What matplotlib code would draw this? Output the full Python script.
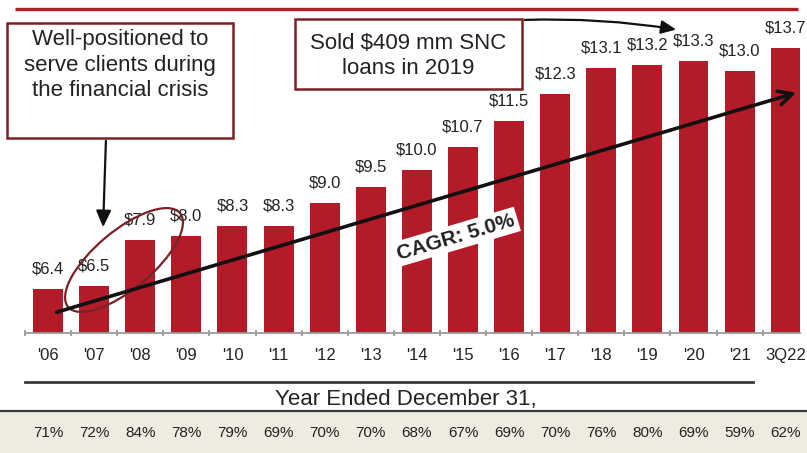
import matplotlib
matplotlib.use("Agg")
import matplotlib.pyplot as plt
import matplotlib.transforms as mtransforms
from matplotlib.patches import Ellipse, Rectangle
import numpy as np

plt.rcParams['font.family'] = ['Liberation Sans', 'DejaVu Sans']

# data
years = ["'06", "'07", "'08", "'09", "'10", "'11", "'12", "'13", "'14",
         "'15", "'16", "'17", "'18", "'19", "'20", "'21", "3Q22"]
values = [6.4, 6.5, 7.9, 8.0, 8.3, 8.3, 9.0, 9.5, 10.0,
          10.7, 11.5, 12.3, 13.1, 13.2, 13.3, 13.0, 13.7]
ratios = ["71%", "72%", "84%", "78%", "79%", "69%", "70%", "70%", "68%",
          "67%", "69%", "70%", "76%", "80%", "69%", "59%", "62%"]

W, H = 807, 453
bar_red = "#B31B28"
box_red = "#7A2128"
txt = "#222222"

fig = plt.figure(figsize=(W / 100, H / 100), dpi=100)

# main bar axes (pixel layout: x 25..800, baseline at y=333)
ax = fig.add_axes([25 / W, (H - 333) / H, 775 / W, 311 / H])
x = np.arange(len(values))
ax.bar(x, values, width=0.65, color=bar_red, zorder=2)
ax.set_xlim(-0.5, 16.31)
ax.set_ylim(5.07, 5.07 + 311 / 33.0)

for xi, v in zip(x, values):
    ax.annotate(f"${v:.1f}", (xi, v), xytext=(0, 9), textcoords="offset points",
                ha="center", va="bottom", fontsize=12, color=txt)

for s in ["top", "right", "left"]:
    ax.spines[s].set_visible(False)
ax.spines["bottom"].set_color("#9A9A9A")
ax.spines["bottom"].set_linewidth(1.3)
ax.set_yticks([])
ax.set_xticks(x)
ax.set_xticklabels(years, fontsize=12, color=txt)
ax.tick_params(axis="x", which="major", length=0, pad=11)
ax.set_xticks(np.arange(-0.5, 16, 1.0), minor=True)
ax.tick_params(axis="x", which="minor", length=5, width=1.3, color="#9A9A9A", direction="inout")

# percentage row under the chart
trans = mtransforms.blended_transform_factory(ax.transData, fig.transFigure)
for xi, r in zip(x, ratios):
    ax.text(xi, (H - 433) / H, r, transform=trans, ha="center", va="center",
            fontsize=11, color=txt, clip_on=False)

# pixel-coordinate layers for decorations
ov = fig.add_axes([0, 0, 1, 1], zorder=-1)
ov.set_xlim(0, W)
ov.set_ylim(H, 0)
ov.axis("off")
ov.patch.set_alpha(0)

ann = fig.add_axes([0, 0, 1, 1], zorder=5)
ann.set_xlim(0, W)
ann.set_ylim(H, 0)
ann.axis("off")
ann.patch.set_alpha(0)

# top red rule
ann.plot([15, 798], [9, 9], color=bar_red, lw=2.4, solid_capstyle="butt")

# bottom band
ov.add_patch(Rectangle((0, 411), W, 42, facecolor="#EEEBE1", edgecolor="none"))
ov.plot([0, W], [411, 411], color="#3A3A3A", lw=1.6)
ann.plot([25, 753], [382, 382], color="#3A3A3A", lw=2)
ann.text(406, 399, "Year Ended December 31,", ha="center", va="center", fontsize=16, color=txt)

# callout boxes
ann.add_patch(Rectangle((7, 23), 226, 115, facecolor="white", edgecolor=box_red, lw=1.8))
ann.text(120, 65, "Well-positioned to\nserve clients during\nthe financial crisis",
         ha="center", va="center", fontsize=16, color=txt, linespacing=1.25)
ann.annotate("", xy=(103, 230), xytext=(106, 138),
             arrowprops=dict(arrowstyle="-|>,head_length=1.0,head_width=0.45", color="#111111", lw=1.6))

ann.add_patch(Rectangle((295, 19), 227, 70, facecolor="white", edgecolor=box_red, lw=1.8))
ann.text(408, 56, "Sold $409 mm SNC\nloans in 2019", ha="center", va="center",
         fontsize=16, color=txt, linespacing=1.25)
ann.annotate("", xy=(679, 30), xytext=(522, 20),
             arrowprops=dict(arrowstyle="-|>,head_length=0.9,head_width=0.4", color="#111111", lw=1.6,
                             connectionstyle="arc3,rad=-0.05"))

# ellipse around the crisis years
ann.add_patch(Ellipse((124, 260), 146, 58, angle=-40, facecolor="none", edgecolor=box_red, lw=1.6))

# CAGR trend arrow
ann.annotate("", xy=(799, 92), xytext=(54, 313),
             arrowprops=dict(arrowstyle="->,head_length=1.0,head_width=0.5", color="#111111", lw=2.6))
ann.text(456, 237, "CAGR: 5.0%", ha="center", va="center", rotation=16.5, fontsize=15,
         fontweight="bold", color=txt,
         bbox=dict(boxstyle="square,pad=0.15", facecolor="white", edgecolor="none"))

fig.savefig("out.png", dpi=100)
